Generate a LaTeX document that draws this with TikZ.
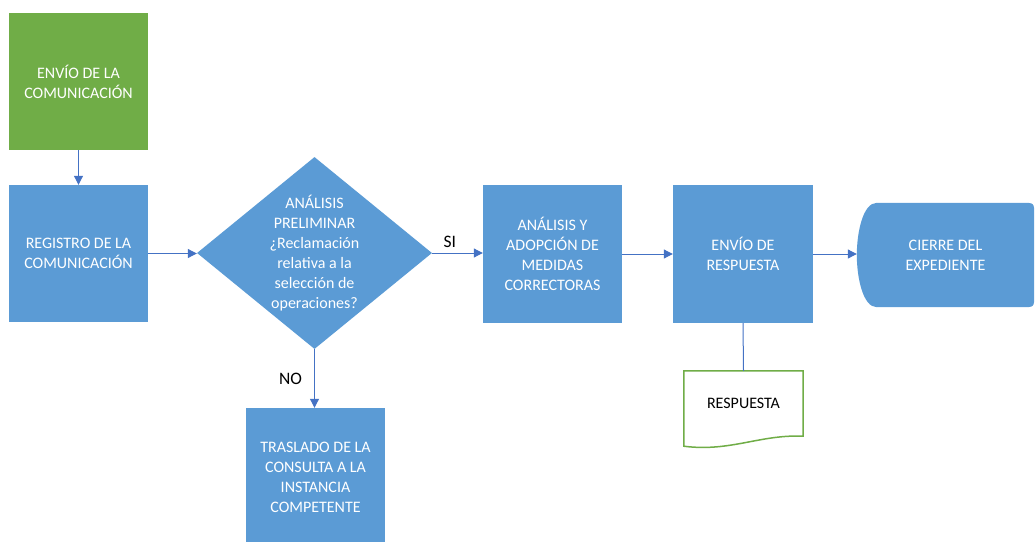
\documentclass[tikz,border=0pt]{standalone}
\usepackage{fontspec}
\setmainfont{Carlito}
\usetikzlibrary{shapes.geometric,arrows.meta,backgrounds}
\definecolor{cajaazul}{HTML}{5B9BD5}
\definecolor{cajaverde}{HTML}{70AD47}
\definecolor{flechaazul}{HTML}{4472C4}

\begin{document}
\begin{tikzpicture}[x=1pt,y=-1pt,
        caja/.style={rectangle, fill=cajaazul, text=white, align=center, inner sep=0pt,
            minimum width=139pt, minimum height=137pt, font=\fontsize{16}{20}\selectfont},
        texto/.style={align=center, inner sep=0pt, font=\fontsize{16}{20}\selectfont},
        etiqueta/.style={inner sep=0pt, font=\fontsize{17.5}{20}\selectfont},
        flecha/.style={draw=flechaazul, line width=1pt, -{Triangle[length=9pt,width=9pt]}},
        linea/.style={draw=flechaazul, line width=1pt}]
    \useasboundingbox (0,0) rectangle (1035,541);
    \begin{scope}
        % cajas
        \node[caja, fill=cajaverde] (envio) at (78.5,81.5) {ENVÍO DE LA\\COMUNICACIÓN};
        \node[caja] (registro) at (78.5,253.5) {REGISTRO DE LA\\COMUNICACIÓN};
        \node[diamond, fill=cajaazul, inner sep=0pt, minimum width=235pt, minimum height=192pt] (decision) at (314.5,253) {};
        \node[texto, text=white] (pregunta) at (decision.center) {ANÁLISIS\\PRELIMINAR\\¿Reclamación\\relativa a la\\selección de\\operaciones?};
        \node[caja, minimum height=138pt] (medidas) at (552.5,254) {ANÁLISIS Y\\ADOPCIÓN DE\\MEDIDAS\\CORRECTORAS};
        \node[caja, minimum width=140pt, minimum height=138pt] (respuesta) at (743,254) {ENVÍO DE\\RESPUESTA};
        \node[caja, minimum height=138pt] (traslado) at (315.5,477) {TRASLADO DE LA\\CONSULTA A LA\\INSTANCIA\\COMPETENTE};
        \node[texto, text=white, minimum width=177pt, minimum height=104pt] (cierre) at (945.5,255) {CIERRE DEL\\EXPEDIENTE};
        \node[texto, minimum width=119pt, minimum height=65pt] (respdoc) at (743.5,403.5) {RESPUESTA};

        % formas propias
        \begin{scope}[on background layer]
            \fill[cajaazul] ([xshift=20pt]cierre.north west) -- ([xshift=-12pt]cierre.north east)
                .. controls (cierre.north east) .. ([yshift=-12pt]cierre.north east)
                -- ([yshift=12pt]cierre.south east)
                .. controls (cierre.south east) .. ([xshift=-12pt]cierre.south east)
                -- ([xshift=20pt]cierre.south west)
                .. controls ([xshift=6pt]cierre.south west) and ([yshift=30pt]cierre.south west) .. (cierre.west)
                .. controls ([yshift=-30pt]cierre.north west) and ([xshift=6pt]cierre.north west) .. cycle;
            \draw[cajaverde, line width=1.5pt, fill=white] (respdoc.north west) -- (respdoc.north east) -- (respdoc.south east)
                .. controls ([xshift=-43pt,yshift=2pt]respdoc.south east) and ([xshift=-73pt,yshift=-16pt]respdoc.south east)
                .. ([yshift=-10pt]respdoc.south west) -- cycle;
        \end{scope}

        % conectores
        \draw[flecha] (envio.south) -- (registro.north);
        \draw[flecha] (registro.east) -- (registro.east -| decision.west);
        \draw[flecha] (decision.east) -- (decision.east -| medidas.west)
            node[etiqueta, above=5pt, pos=0.35] {SI};
        \draw[flecha] (decision.south) -- (decision.south |- traslado.north)
            node[etiqueta, left=12pt, midway] {NO};
        \draw[flecha] (medidas.east) -- (medidas.east -| respuesta.west);
        \draw[flecha] (respuesta.east) -- (respuesta.east -| cierre.west);
        \draw[linea] (respuesta.south) -- (respdoc.north);
    \end{scope}
\end{tikzpicture}
\end{document}
